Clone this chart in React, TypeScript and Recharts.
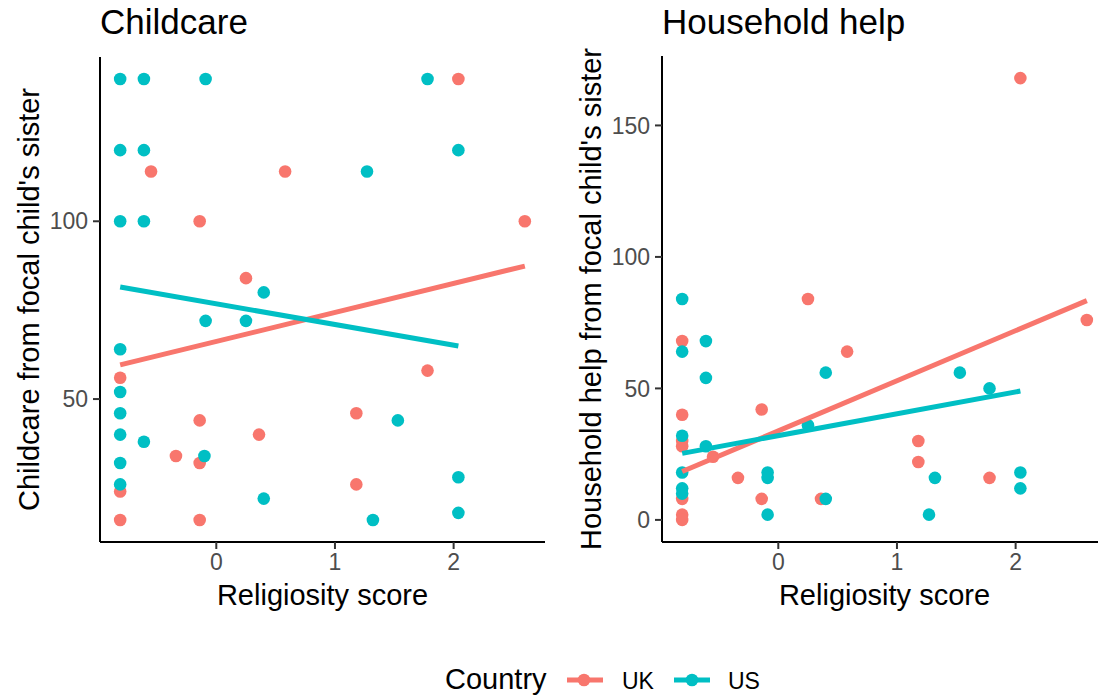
import React from 'react';
import { ScatterChart, Scatter, XAxis, YAxis } from 'recharts';

const UK_COLOR = '#F8766D';
const US_COLOR = '#00BFC4';
const FONT = '"Liberation Sans", Arial, sans-serif';

const xTicks = [0, 1, 2];
const childTicks = [50, 100];
const helpTicks = [0, 50, 100, 150];

const childUK = [
  { x: -0.55, y: 114 }, { x: 0.58, y: 114 }, { x: -0.14, y: 100 }, { x: 0.25, y: 84 },
  { x: 2.04, y: 140 }, { x: 2.6, y: 100 }, { x: -0.81, y: 56 }, { x: -0.14, y: 44 },
  { x: 0.36, y: 40 }, { x: -0.34, y: 34 }, { x: -0.14, y: 32 }, { x: -0.81, y: 24 },
  { x: -0.81, y: 16 }, { x: -0.14, y: 16 }, { x: 1.78, y: 58 }, { x: 1.18, y: 46 },
  { x: 1.18, y: 26 },
];

const childUS = [
  { x: -0.81, y: 140 }, { x: -0.61, y: 140 }, { x: -0.09, y: 140 }, { x: 1.78, y: 140 },
  { x: -0.81, y: 120 }, { x: -0.61, y: 120 }, { x: 2.04, y: 120 }, { x: 1.27, y: 114 },
  { x: -0.81, y: 100 }, { x: -0.61, y: 100 }, { x: 0.4, y: 80 }, { x: -0.09, y: 72 },
  { x: 0.25, y: 72 }, { x: -0.81, y: 64 }, { x: -0.81, y: 52 }, { x: -0.81, y: 46 },
  { x: 1.53, y: 44 }, { x: -0.81, y: 40 }, { x: -0.61, y: 38 }, { x: -0.1, y: 34 },
  { x: -0.81, y: 32 }, { x: 2.04, y: 28 }, { x: -0.81, y: 26 }, { x: 0.4, y: 22 },
  { x: 2.04, y: 18 }, { x: 1.32, y: 16 },
];

const helpUK = [
  { x: 2.04, y: 168 }, { x: 0.25, y: 84 }, { x: 2.6, y: 76 }, { x: -0.81, y: 68 },
  { x: 0.58, y: 64 }, { x: -0.14, y: 42 }, { x: -0.81, y: 40 }, { x: -0.81, y: 30 },
  { x: 1.18, y: 30 }, { x: -0.81, y: 28 }, { x: -0.55, y: 24 }, { x: 1.18, y: 22 },
  { x: -0.34, y: 16 }, { x: 1.78, y: 16 }, { x: -0.81, y: 8 }, { x: -0.14, y: 8 },
  { x: 0.36, y: 8 }, { x: -0.81, y: 2 }, { x: -0.81, y: 0 },
];

const helpUS = [
  { x: -0.81, y: 84 }, { x: -0.61, y: 68 }, { x: -0.81, y: 64 }, { x: 0.4, y: 56 },
  { x: 1.53, y: 56 }, { x: -0.61, y: 54 }, { x: 1.78, y: 50 }, { x: 0.25, y: 36 },
  { x: -0.81, y: 32 }, { x: -0.61, y: 28 }, { x: -0.81, y: 18 }, { x: -0.09, y: 18 },
  { x: 2.04, y: 18 }, { x: -0.09, y: 16 }, { x: 1.32, y: 16 }, { x: -0.81, y: 12 },
  { x: 2.04, y: 12 }, { x: -0.81, y: 10 }, { x: 0.4, y: 8 }, { x: -0.09, y: 2 },
  { x: 1.27, y: 2 },
];

// fitted line endpoints
const childFitUK = [{ x: -0.81, y: 59.6 }, { x: 2.6, y: 87.4 }];
const childFitUS = [{ x: -0.81, y: 81.5 }, { x: 2.04, y: 64.9 }];
const helpFitUK = [{ x: -0.81, y: 18.4 }, { x: 2.6, y: 83.4 }];
const helpFitUS = [{ x: -0.81, y: 25.3 }, { x: 2.04, y: 49 }];

const dot = (color: string) => (p: any) => (
  <circle cx={p.cx} cy={p.cy} r={6.3} fill={color} />
);
const noDot = () => <g />;

const tickStyle = { fontSize: 23, fill: '#4D4D4D', fontFamily: FONT };

const yLabel = (text: string) => (props: any) => {
  const vb = props.viewBox || { y: 0, height: 0 };
  const cx = 29;
  const cy = vb.y + vb.height / 2;
  return (
    <text x={cx} y={cy} transform={`rotate(-90 ${cx} ${cy})`} textAnchor="middle"
      dominantBaseline="central" fontSize={29} fontFamily={FONT} fill="#000">
      {text}
    </text>
  );
};

const xLabel = (props: any) => {
  const vb = props.viewBox || { x: 0, y: 0, width: 0 };
  return (
    <text x={vb.x + vb.width / 2} y={vb.y + 63} textAnchor="middle"
      fontSize={29} fontFamily={FONT} fill="#000">
      Religiosity score
    </text>
  );
};

type PanelProps = {
  left: number;
  width: number;
  marginRight: number;
  top: number;
  yDomain: [number, number];
  yTicks: number[];
  uk: { x: number; y: number }[];
  us: { x: number; y: number }[];
  fitUK: { x: number; y: number }[];
  fitUS: { x: number; y: number }[];
  yTitle: string;
};

const Panel = (p: PanelProps) => (
  <div style={{ position: 'absolute', left: p.left, top: 0 }}>
    <ScatterChart width={p.width} height={640}
      margin={{ top: p.top, right: p.marginRight, bottom: 18, left: 0 }}>
      <XAxis type="number" dataKey="x" domain={[-0.98, 2.77]} ticks={xTicks}
        allowDataOverflow interval={0} height={80} tickSize={7} tickMargin={5}
        axisLine={{ stroke: '#000', strokeWidth: 2 }}
        tickLine={{ stroke: '#333', strokeWidth: 2 }}
        tick={tickStyle} label={{ content: xLabel }} />
      <YAxis type="number" dataKey="y" domain={p.yDomain} ticks={p.yTicks}
        allowDataOverflow interval={0} width={100} tickSize={7} tickMargin={5}
        axisLine={{ stroke: '#000', strokeWidth: 2 }}
        tickLine={{ stroke: '#333', strokeWidth: 2 }}
        tick={tickStyle} label={{ content: yLabel(p.yTitle) }} />
      <Scatter name="UK" data={p.uk} shape={dot(UK_COLOR)} isAnimationActive={false} />
      <Scatter name="US" data={p.us} shape={dot(US_COLOR)} isAnimationActive={false} />
      <Scatter name="UK fit" data={p.fitUK} shape={noDot} line={{ stroke: UK_COLOR, strokeWidth: 5 }}
        isAnimationActive={false} legendType="none" />
      <Scatter name="US fit" data={p.fitUS} shape={noDot} line={{ stroke: US_COLOR, strokeWidth: 5 }}
        isAnimationActive={false} legendType="none" />
    </ScatterChart>
  </div>
);

export default function App() {
  return (
    <div style={{ position: 'absolute', left: 0, top: 0, width: 1098, height: 698, overflow: 'hidden', background: '#fff' }}>
      <Panel left={0} width={560} marginRight={15} top={57} yDomain={[9.8, 146.2]} yTicks={childTicks}
        uk={childUK} us={childUS} fitUK={childFitUK} fitUS={childFitUS}
        yTitle="Childcare from focal child's sister" />
      <Panel left={562} width={550} marginRight={5} top={56} yDomain={[-8.4, 176.4]} yTicks={helpTicks}
        uk={helpUK} us={helpUS} fitUK={helpFitUK} fitUS={helpFitUS}
        yTitle="Household help from focal child's sister" />
      <svg width={1098} height={698} style={{ position: 'absolute', left: 0, top: 0, pointerEvents: 'none' }}
        fontFamily={FONT}>
        <text x={100} y={34} fontSize={35} fill="#000">Childcare</text>
        <text x={662} y={34} fontSize={35} fill="#000">Household help</text>
        <text x={445} y={689} fontSize={29} fill="#000">Country</text>
        <line x1={567} x2={603} y1={680} y2={680} stroke={UK_COLOR} strokeWidth={5} />
        <circle cx={584} cy={680} r={6.3} fill={UK_COLOR} />
        <text x={622} y={689} fontSize={23} fill="#000">UK</text>
        <line x1={674} x2={710} y1={680} y2={680} stroke={US_COLOR} strokeWidth={5} />
        <circle cx={692} cy={680} r={6.3} fill={US_COLOR} />
        <text x={728} y={689} fontSize={23} fill="#000">US</text>
      </svg>
    </div>
  );
}
